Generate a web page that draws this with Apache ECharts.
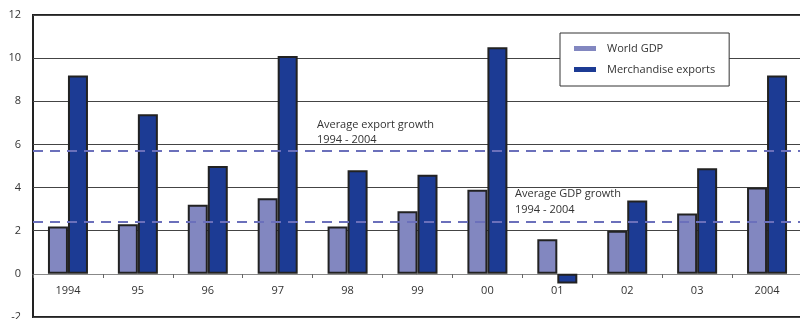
<!DOCTYPE html>
<html>
<head>
<meta charset="utf-8">
<script src="https://cdn.jsdelivr.net/npm/echarts@6/dist/echarts.min.js"></script>
<style>
  html, body { margin: 0; padding: 0; background: #fff; }
  #chart { width: 800px; height: 319px; }
</style>
</head>
<body>
<div id="chart"></div>
<script>
// years on the x axis
var years = ['1994', '95', '96', '97', '98', '99', '00', '01', '02', '03', '2004'];
// annual growth, per cent
var worldGdp = [2.2, 2.3, 3.2, 3.5, 2.2, 2.9, 3.9, 1.6, 2.0, 2.8, 4.0];
var merchExports = [9.2, 7.4, 5.0, 10.1, 4.8, 4.6, 10.5, -0.45, 3.4, 4.9, 9.2];
// averages 1994 - 2004
var avgExport = 5.7;
var avgGdp = 2.4;

var chart = echarts.init(document.getElementById('chart'));

var option = {
  animation: false,
  textStyle: { fontFamily: 'Open Sans' },
  grid: {
    left: 33, right: -2, top: 15, bottom: 2,
    outerBoundsMode: 'none',
    containLabel: false,
    show: true, borderColor: '#222', borderWidth: 2
  },
  legend: {
    orient: 'vertical',
    left: 560, top: 33,
    padding: [10, 14, 11, 14],
    itemGap: 10,
    itemWidth: 22, itemHeight: 5,
    icon: 'rect',
    itemStyle: { borderWidth: 0 },
    backgroundColor: '#fff',
    borderColor: '#333', borderWidth: 1,
    textStyle: { color: '#333', fontSize: 11, padding: [0, 0, 0, 6] },
    data: ['World GDP', 'Merchandise exports']
  },
  xAxis: {
    type: 'category',
    data: years,
    position: 'bottom',
    offset: -43,
    axisLine: { onZero: false, lineStyle: { color: '#888', width: 1 } },
    axisTick: { show: true, length: 4, lineStyle: { color: '#666' } },
    axisLabel: { color: '#333', fontSize: 11, margin: 11, interval: 0 },
    splitLine: { show: false }
  },
  yAxis: {
    type: 'value',
    min: -2, max: 12, interval: 2,
    axisLine: { show: false },
    axisTick: { show: false },
    axisLabel: { color: '#333', fontSize: 11, margin: 12, padding: [0, 0, 4, 0], showMinLabel: true, showMaxLabel: true },
    splitLine: { lineStyle: { color: '#444', width: 1 } }
  },
  graphic: [
    { type: 'text', left: 317, top: 117,
      style: { text: 'Average export growth\n1994 - 2004', fill: '#333', fontSize: 11, lineHeight: 15, fontFamily: 'Open Sans' } },
    { type: 'text', left: 515, top: 186,
      style: { text: 'Average GDP growth\n1994 - 2004', fill: '#333', fontSize: 11, lineHeight: 16, fontFamily: 'Open Sans' } }
  ],
  series: [
    {
      name: 'World GDP',
      type: 'bar',
      data: worldGdp,
      barWidth: 20,
      barGap: '0%',
      itemStyle: { color: '#8287c0', borderColor: '#222', borderWidth: 2 },
      markLine: {
        silent: true,
        symbol: 'none',
        label: { show: false },
        lineStyle: { color: '#6b70bb', type: [10, 7], width: 2 },
        data: [{ yAxis: avgExport }, { yAxis: avgGdp }]
      },
      z: 3
    },
    {
      name: 'Merchandise exports',
      type: 'bar',
      data: merchExports,
      barWidth: 20,
      itemStyle: { color: '#1c3b94', borderColor: '#222', borderWidth: 2 },
      z: 3
    }
  ]
};

chart.setOption(option);
</script>
</body>
</html>
